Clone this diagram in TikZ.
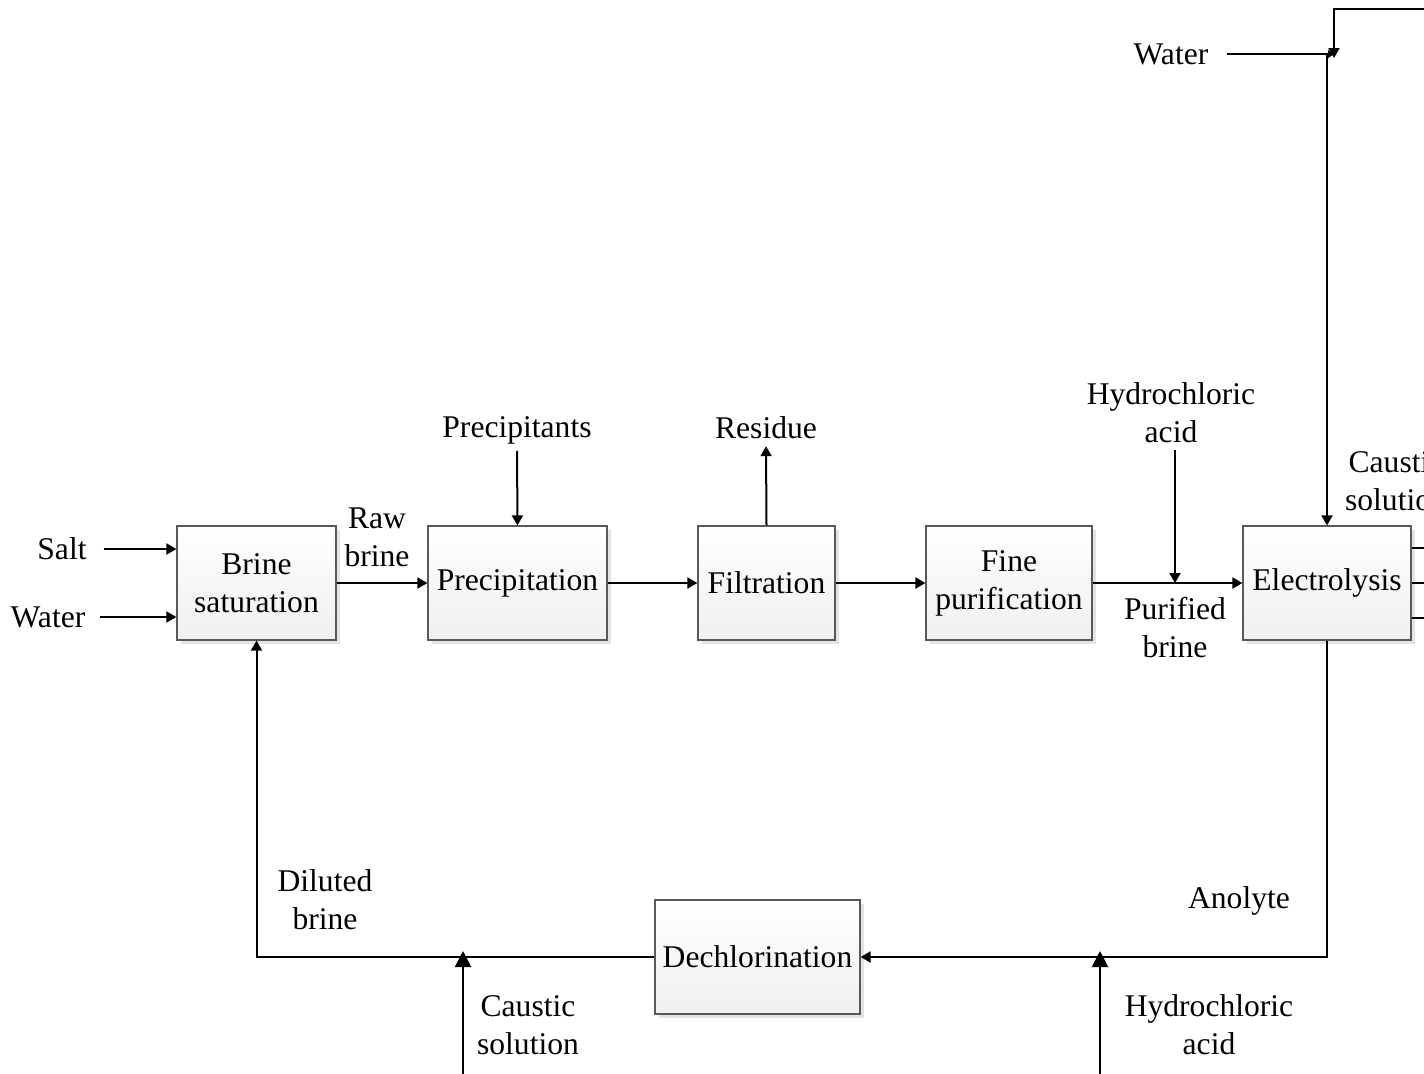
\documentclass[tikz,border=0pt]{standalone}
\usepackage{fontspec}
\setmainfont{Liberation Serif}
\usetikzlibrary{arrows.meta,shadows}

\tikzset{
  unit/.style={draw=black!65, line width=0.6pt, top color=white, bottom color=black!6,
    minimum height=57pt, align=center, inner sep=2pt,
    drop shadow={shadow xshift=2pt, shadow yshift=-2pt, fill=black!11, opacity=1}},
  flow/.style={line width=1pt, -{Triangle[length=5pt,width=5.5pt]}},
  pipe/.style={line width=1pt},
  lbl/.style={align=center},
}

\begin{document}
\begin{tikzpicture}[x=0.5pt,y=-0.5pt,font=\fontsize{15.8}{19}\selectfont]
    \useasboundingbox (0,0) rectangle (1424,1073);
    \clip (0,0) rectangle (1424,1073);

    % Process units
    \node[unit, minimum width=79.5pt] (brine) at (256.5,583) {Brine\\saturation};
    \node[unit, minimum width=89.5pt] (precip) at (517.5,583) {Precipitation};
    \node[unit, minimum width=68.5pt] (filt) at (766.5,583) {Filtration};
    \node[unit, minimum width=83pt] (fine) at (1009,583) {Fine\\purification};
    \node[unit, minimum width=84pt] (elec) at (1327,583) {Electrolysis};
    \node[unit, minimum width=102.5pt] (dechl) at (757.5,957) {Dechlorination};

    % Feeds into brine saturation
    \node (salt) at (62,549) {Salt};
    \node (water) at (48,617) {Water};
    \draw[flow] ([xshift=5pt]salt.east) -- (salt -| brine.west);
    \draw[flow] ([xshift=4pt]water.east) -- (water -| brine.west);

    % Main line
    \draw[flow] (brine) -- (precip);
    \node[lbl] at (377,537) {Raw\\brine};
    \draw[flow] (precip) -- (filt);
    \draw[flow] (filt) -- (fine);
    \draw[flow] (fine) -- (elec);
    \node[lbl] at (1175,628) {Purified\\brine};

    \node (precipitants) at (517,430) {Precipitants};
    \draw[flow] (precipitants.south) -- (precip.north);
    \node (residue) at (766,428) {Residue};
    \draw[flow] (filt.north) -- (residue.south);

    \node[lbl] (hcltop) at (1171,413) {Hydrochloric\\acid};
    \coordinate (j1) at (1175,583);
    \draw[flow] (hcltop.south -| j1) -- (j1);

    % Water and recycle to electrolysis
    \node (watertop) at (1171,54) {Water};
    \coordinate (j2) at (1327,54);
    \coordinate (j3) at (1334,58);
    \coordinate (rtop) at (1430,9);
    \draw[flow, -{Triangle[length=3pt,width=4pt]}] ([xshift=6pt]watertop.east) -- (j3 |- j2);
    \draw[flow] (rtop) -| (j3);
    \draw[flow] (j2) -- (elec.north);
    \node[lbl] at (1396,481) {Caustic\\solution};

    % Electrolysis outlets
    \foreach \dy in {-35,0,35} { \draw[pipe] (elec.east) ++(0,\dy) -- ++(30,0); }

    % Anolyte loop
    \draw[flow] (elec.south) |- (dechl.east);
    \draw[flow] (dechl.west) -| (brine.south);
    \node at (1239,901) {Anolyte};
    \node[lbl] at (325,900) {Diluted\\brine};

    \coordinate (j4) at (1100,951);
    \coordinate (hclin) at (1100,1080);
    \draw[flow, -{Triangle[length=8pt,width=8pt]}] (hclin) -- (j4);
    \node[lbl] at (1209,1025) {Hydrochloric\\acid};

    \coordinate (j5) at (463,951);
    \coordinate (caustin) at (463,1080);
    \draw[flow, -{Triangle[length=8pt,width=8pt]}] (caustin) -- (j5);
    \node[lbl] at (528,1025) {Caustic\\solution};
\end{tikzpicture}
\end{document}
